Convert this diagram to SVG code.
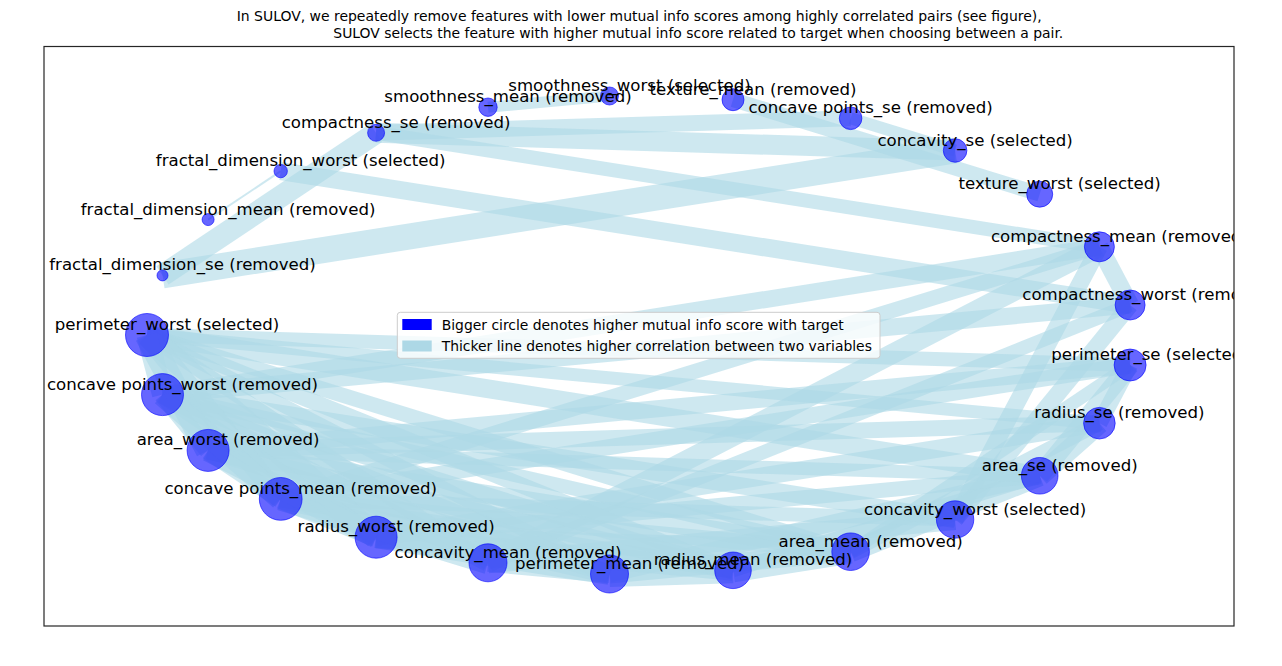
<svg xmlns="http://www.w3.org/2000/svg" width="1282" height="666" viewBox="0 0 1282 666">
<style>
.e{stroke:#add8e6;stroke-opacity:0.6;stroke-linecap:butt;fill:none}
.n{fill:#0000ff;fill-opacity:0.6;stroke:#0000ff;stroke-opacity:0.6;stroke-width:1}
.l{font-family:"DejaVu Sans","Liberation Sans",sans-serif;font-size:16.6px;fill:#000;text-anchor:middle}
.t{font-family:"DejaVu Sans","Liberation Sans",sans-serif;font-size:13.9px;fill:#000}
</style>
<defs><clipPath id="ax"><rect x="44" y="46" width="1190" height="580"/></clipPath></defs>
<rect x="0" y="0" width="1282" height="666" fill="#fff"/>
<g id="title">
<text class="t" x="236.7" y="21" textLength="805" lengthAdjust="spacingAndGlyphs">In SULOV, we repeatedly remove features with lower mutual info scores among highly correlated pairs (see figure),</text>
<text class="t" x="333.3" y="37.5" textLength="730" lengthAdjust="spacingAndGlyphs">SULOV selects the feature with higher mutual info score related to target when choosing between a pair.</text>
</g>
<g clip-path="url(#ax)">
<g id="connectors">
<line class="e" x1="162.5" y1="275.4" x2="955.1" y2="150.5" stroke-width="26"/>
<line class="e" x1="162.5" y1="275.4" x2="376.1" y2="132.8" stroke-width="22"/>
<line class="e" x1="208.1" y1="219.6" x2="280.7" y2="171.1" stroke-width="2"/>
<line class="e" x1="280.7" y1="171.1" x2="1130.1" y2="305.0" stroke-width="18"/>
<line class="e" x1="376.1" y1="132.8" x2="850.6" y2="118.3" stroke-width="16"/>
<line class="e" x1="376.1" y1="132.8" x2="955.1" y2="150.5" stroke-width="20"/>
<line class="e" x1="376.1" y1="132.8" x2="1099.4" y2="246.8" stroke-width="14"/>
<line class="e" x1="488.0" y1="107.2" x2="609.5" y2="96.0" stroke-width="11"/>
<line class="e" x1="733.0" y1="99.7" x2="1039.7" y2="194.2" stroke-width="15"/>
<line class="e" x1="850.6" y1="118.3" x2="955.1" y2="150.5" stroke-width="12"/>
<line class="e" x1="1099.4" y1="246.8" x2="1130.1" y2="305.0" stroke-width="18"/>
<line class="e" x1="1099.4" y1="246.8" x2="955.1" y2="519.5" stroke-width="17"/>
<line class="e" x1="1099.4" y1="246.8" x2="488.0" y2="562.8" stroke-width="20"/>
<line class="e" x1="1099.4" y1="246.8" x2="280.7" y2="498.9" stroke-width="15"/>
<line class="e" x1="1099.4" y1="246.8" x2="162.5" y2="394.6" stroke-width="17"/>
<line class="e" x1="1130.1" y1="305.0" x2="955.1" y2="519.5" stroke-width="17"/>
<line class="e" x1="1130.1" y1="305.0" x2="488.0" y2="562.8" stroke-width="14"/>
<line class="e" x1="1130.1" y1="305.0" x2="162.5" y2="394.6" stroke-width="17"/>
<line class="e" x1="1130.1" y1="365.0" x2="1099.4" y2="423.2" stroke-width="16"/>
<line class="e" x1="1130.1" y1="365.0" x2="1039.7" y2="475.8" stroke-width="19"/>
<line class="e" x1="1130.1" y1="365.0" x2="850.6" y2="551.7" stroke-width="13"/>
<line class="e" x1="1130.1" y1="365.0" x2="280.7" y2="498.9" stroke-width="16"/>
<line class="e" x1="1130.1" y1="365.0" x2="147.0" y2="335.0" stroke-width="14"/>
<line class="e" x1="1130.1" y1="365.0" x2="208.1" y2="450.4" stroke-width="17"/>
<line class="e" x1="1099.4" y1="423.2" x2="1039.7" y2="475.8" stroke-width="21"/>
<line class="e" x1="1099.4" y1="423.2" x2="850.6" y2="551.7" stroke-width="15"/>
<line class="e" x1="1099.4" y1="423.2" x2="376.1" y2="537.2" stroke-width="18"/>
<line class="e" x1="1099.4" y1="423.2" x2="147.0" y2="335.0" stroke-width="13"/>
<line class="e" x1="1099.4" y1="423.2" x2="208.1" y2="450.4" stroke-width="16"/>
<line class="e" x1="1039.7" y1="475.8" x2="733.0" y2="570.3" stroke-width="14"/>
<line class="e" x1="1039.7" y1="475.8" x2="609.5" y2="574.0" stroke-width="17"/>
<line class="e" x1="1039.7" y1="475.8" x2="850.6" y2="551.7" stroke-width="21"/>
<line class="e" x1="1039.7" y1="475.8" x2="376.1" y2="537.2" stroke-width="15"/>
<line class="e" x1="1039.7" y1="475.8" x2="147.0" y2="335.0" stroke-width="19"/>
<line class="e" x1="1039.7" y1="475.8" x2="208.1" y2="450.4" stroke-width="13"/>
<line class="e" x1="955.1" y1="519.5" x2="488.0" y2="562.8" stroke-width="21"/>
<line class="e" x1="955.1" y1="519.5" x2="280.7" y2="498.9" stroke-width="14"/>
<line class="e" x1="955.1" y1="519.5" x2="162.5" y2="394.6" stroke-width="17"/>
<line class="e" x1="850.6" y1="551.7" x2="733.0" y2="570.3" stroke-width="24"/>
<line class="e" x1="850.6" y1="551.7" x2="609.5" y2="574.0" stroke-width="19"/>
<line class="e" x1="850.6" y1="551.7" x2="280.7" y2="498.9" stroke-width="16"/>
<line class="e" x1="850.6" y1="551.7" x2="376.1" y2="537.2" stroke-width="22"/>
<line class="e" x1="850.6" y1="551.7" x2="147.0" y2="335.0" stroke-width="15"/>
<line class="e" x1="850.6" y1="551.7" x2="208.1" y2="450.4" stroke-width="19"/>
<line class="e" x1="850.6" y1="551.7" x2="162.5" y2="394.6" stroke-width="14"/>
<line class="e" x1="733.0" y1="570.3" x2="609.5" y2="574.0" stroke-width="26"/>
<line class="e" x1="733.0" y1="570.3" x2="280.7" y2="498.9" stroke-width="17"/>
<line class="e" x1="733.0" y1="570.3" x2="376.1" y2="537.2" stroke-width="21"/>
<line class="e" x1="733.0" y1="570.3" x2="147.0" y2="335.0" stroke-width="16"/>
<line class="e" x1="733.0" y1="570.3" x2="208.1" y2="450.4" stroke-width="18"/>
<line class="e" x1="733.0" y1="570.3" x2="162.5" y2="394.6" stroke-width="15"/>
<line class="e" x1="609.5" y1="574.0" x2="488.0" y2="562.8" stroke-width="18"/>
<line class="e" x1="609.5" y1="574.0" x2="280.7" y2="498.9" stroke-width="20"/>
<line class="e" x1="609.5" y1="574.0" x2="376.1" y2="537.2" stroke-width="22"/>
<line class="e" x1="609.5" y1="574.0" x2="147.0" y2="335.0" stroke-width="14"/>
<line class="e" x1="609.5" y1="574.0" x2="208.1" y2="450.4" stroke-width="17"/>
<line class="e" x1="609.5" y1="574.0" x2="162.5" y2="394.6" stroke-width="16"/>
<line class="e" x1="488.0" y1="562.8" x2="280.7" y2="498.9" stroke-width="23"/>
<line class="e" x1="488.0" y1="562.8" x2="162.5" y2="394.6" stroke-width="18"/>
<line class="e" x1="488.0" y1="562.8" x2="147.0" y2="335.0" stroke-width="15"/>
<line class="e" x1="376.1" y1="537.2" x2="280.7" y2="498.9" stroke-width="20"/>
<line class="e" x1="376.1" y1="537.2" x2="147.0" y2="335.0" stroke-width="24"/>
<line class="e" x1="376.1" y1="537.2" x2="208.1" y2="450.4" stroke-width="22"/>
<line class="e" x1="376.1" y1="537.2" x2="162.5" y2="394.6" stroke-width="18"/>
<line class="e" x1="280.7" y1="498.9" x2="147.0" y2="335.0" stroke-width="21"/>
<line class="e" x1="280.7" y1="498.9" x2="208.1" y2="450.4" stroke-width="19"/>
<line class="e" x1="280.7" y1="498.9" x2="162.5" y2="394.6" stroke-width="23"/>
<line class="e" x1="208.1" y1="450.4" x2="147.0" y2="335.0" stroke-width="25"/>
<line class="e" x1="208.1" y1="450.4" x2="162.5" y2="394.6" stroke-width="18"/>
<line class="e" x1="162.5" y1="394.6" x2="147.0" y2="335.0" stroke-width="21"/>
</g>
<g id="n-perimeter_worst"><circle class="n" cx="147.0" cy="335.0" r="21.5"/></g>
<g id="n-fractal_dimension_se"><circle class="n" cx="162.5" cy="275.4" r="5.5"/></g>
<g id="n-fractal_dimension_mean"><circle class="n" cx="208.1" cy="219.6" r="6"/></g>
<g id="n-fractal_dimension_worst"><circle class="n" cx="280.7" cy="171.1" r="6.7"/></g>
<g id="n-compactness_se"><circle class="n" cx="376.1" cy="132.8" r="8.5"/></g>
<g id="n-smoothness_mean"><circle class="n" cx="488.0" cy="107.2" r="9.2"/></g>
<g id="n-smoothness_worst"><circle class="n" cx="609.5" cy="96.0" r="9"/></g>
<g id="n-texture_mean"><circle class="n" cx="733.0" cy="99.7" r="11"/></g>
<g id="n-concave_points_se"><circle class="n" cx="850.6" cy="118.3" r="11.3"/></g>
<g id="n-concavity_se"><circle class="n" cx="955.1" cy="150.5" r="11.8"/></g>
<g id="n-texture_worst"><circle class="n" cx="1039.7" cy="194.2" r="13"/></g>
<g id="n-compactness_mean"><circle class="n" cx="1099.4" cy="246.8" r="15"/></g>
<g id="n-compactness_worst"><circle class="n" cx="1130.1" cy="305.0" r="15"/></g>
<g id="n-perimeter_se"><circle class="n" cx="1130.1" cy="365.0" r="16"/></g>
<g id="n-radius_se"><circle class="n" cx="1099.4" cy="423.2" r="15.8"/></g>
<g id="n-area_se"><circle class="n" cx="1039.7" cy="475.8" r="18.3"/></g>
<g id="n-concavity_worst"><circle class="n" cx="955.1" cy="519.5" r="18.7"/></g>
<g id="n-area_mean"><circle class="n" cx="850.6" cy="551.7" r="18.8"/></g>
<g id="n-radius_mean"><circle class="n" cx="733.0" cy="570.3" r="18.3"/></g>
<g id="n-perimeter_mean"><circle class="n" cx="609.5" cy="574.0" r="19"/></g>
<g id="n-concavity_mean"><circle class="n" cx="488.0" cy="562.8" r="19"/></g>
<g id="n-radius_worst"><circle class="n" cx="376.1" cy="537.2" r="21"/></g>
<g id="n-concave_points_mean"><circle class="n" cx="280.7" cy="498.9" r="21.4"/></g>
<g id="n-area_worst"><circle class="n" cx="208.1" cy="450.4" r="21"/></g>
<g id="n-concave_points_worst"><circle class="n" cx="162.5" cy="394.6" r="21"/></g>
<g id="labels">
<text class="l" x="167.0" y="330.0">perimeter_worst (selected)</text>
<text class="l" x="182.5" y="270.4">fractal_dimension_se (removed)</text>
<text class="l" x="228.1" y="214.6">fractal_dimension_mean (removed)</text>
<text class="l" x="300.7" y="166.1">fractal_dimension_worst (selected)</text>
<text class="l" x="396.1" y="127.8">compactness_se (removed)</text>
<text class="l" x="508.0" y="102.2">smoothness_mean (removed)</text>
<text class="l" x="629.5" y="91.0">smoothness_worst (selected)</text>
<text class="l" x="753.0" y="94.7">texture_mean (removed)</text>
<text class="l" x="870.6" y="113.3">concave points_se (removed)</text>
<text class="l" x="975.1" y="145.5">concavity_se (selected)</text>
<text class="l" x="1059.7" y="189.2">texture_worst (selected)</text>
<text class="l" x="1119.4" y="241.8">compactness_mean (removed)</text>
<text class="l" x="1150.1" y="300.0">compactness_worst (removed)</text>
<text class="l" x="1150.1" y="360.0">perimeter_se (selected)</text>
<text class="l" x="1119.4" y="418.2">radius_se (removed)</text>
<text class="l" x="1059.7" y="470.8">area_se (removed)</text>
<text class="l" x="975.1" y="514.5">concavity_worst (selected)</text>
<text class="l" x="870.6" y="546.7">area_mean (removed)</text>
<text class="l" x="753.0" y="565.3">radius_mean (removed)</text>
<text class="l" x="629.5" y="569.0">perimeter_mean (removed)</text>
<text class="l" x="508.0" y="557.8">concavity_mean (removed)</text>
<text class="l" x="396.1" y="532.2">radius_worst (removed)</text>
<text class="l" x="300.7" y="493.9">concave points_mean (removed)</text>
<text class="l" x="228.1" y="445.4">area_worst (removed)</text>
<text class="l" x="182.5" y="389.6">concave points_worst (removed)</text>
</g>
<g id="legend">
<rect x="397.3" y="312.3" width="482.7" height="46" rx="3" ry="3" fill="#ffffff" fill-opacity="0.8" stroke="#cccccc" stroke-width="1"/>
<rect x="402.3" y="319" width="29.4" height="11" fill="#0000ff"/>
<rect x="402.3" y="340.5" width="29.4" height="11" fill="#add8e6"/>
<text class="t" x="441.7" y="329.5">Bigger circle denotes higher mutual info score with target</text>
<text class="t" x="441.7" y="350.6">Thicker line denotes higher correlation between two variables</text>
</g>
</g>
<rect id="frame" x="44" y="46.5" width="1190" height="579.5" fill="none" stroke="#262626" stroke-width="1.2"/>
</svg>
